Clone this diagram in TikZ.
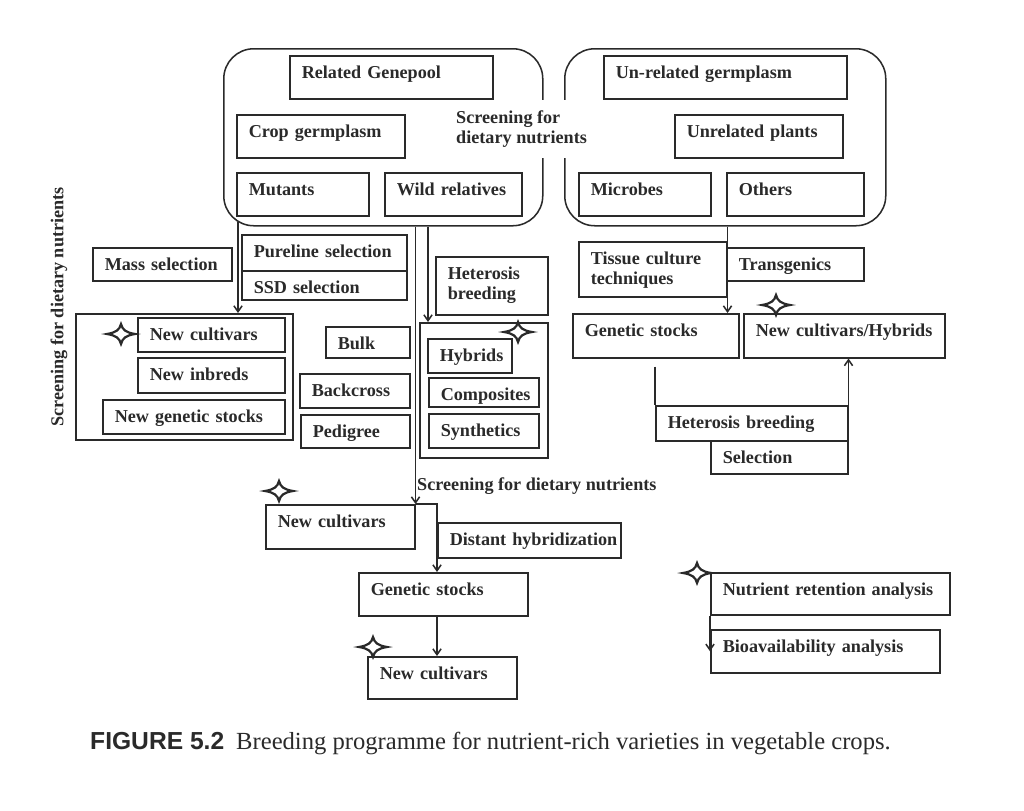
\documentclass[tikz,border=0pt]{standalone}
\usepackage{fontspec}
\setmainfont{Liberation Serif}
\newfontfamily\capsans{Liberation Sans}
\usetikzlibrary{arrows.meta,calc}
\definecolor{ink}{HTML}{2a2a2a}
\newcommand{\bxfont}{\fontsize{15.5}{17}\selectfont\bfseries}
\hyphenpenalty=10000
\exhyphenpenalty=10000

\tikzset{
  bx/.style 2 args={draw=ink, text=ink, line width=1.3pt, anchor=north west,
    align=left, inner xsep=0.36cm, inner ysep=0pt, font=\bxfont,
    /utils/exec={\pgfmathsetlengthmacro\bxw{(#1-24)*0.03cm}%
      \pgfmathsetlengthmacro\bxd{(#2-22.5)*0.03cm}},
    text width=\bxw, text height=0.675cm, text depth=\bxd},
  pool/.style 2 args={draw=ink, line width=1.3pt, rounded corners=0.9cm,
    anchor=north west, inner sep=0pt, minimum width={#1*0.03cm}, minimum height={#2*0.03cm}},
  link/.style={draw=ink, line width=1.3pt, -{Straight Barb[length=5pt,width=7pt]}},
  lbl/.style={font=\bxfont, text=ink, inner sep=0pt},
  spark/.pic={
    \draw[ink, line width=1.9pt, fill=white] (-14,0) .. controls (-5,-1.5) and (-1.5,-4) .. (0,-10)
      .. controls (1.5,-4) and (5,-1.5) .. (14,0) .. controls (5,1.5) and (1.5,4) .. (0,10)
      .. controls (-1.5,4) and (-5,1.5) .. (-14,0) -- cycle;
  }
}

\begin{document}
\begin{tikzpicture}[x=0.03cm, y=-0.03cm]
\fill[white] (0,0) rectangle (1024,811);
\useasboundingbox (0,0) rectangle (1024,811);

% gene pools
\node[pool={319}{177}] (relpool) at (223,48) {};
\node[pool={321}{177}] (unrpool) at (564,48) {};
\node[bx={203}{43}] (relgp) at (289,55) {Related Genepool};
\node[bx={168}{43}] (cropgp) at (236,114) {Crop germplasm};
\node[bx={132}{43}] (mutants) at (236,172) {Mutants};
\node[bx={137}{43}] (wildrel) at (384,172) {\mbox{Wild relatives}};
\node[bx={243}{43}] (unrgerm) at (603,55) {Un-related germplasm};
\node[bx={168}{43}] (unrpl) at (674,114) {Unrelated plants};
\node[bx={132}{43}] (microbes) at (578,172) {Microbes};
\node[bx={137}{43}] (others) at (726,172) {Others};
\node[lbl, fill=white, align=left, anchor=west, inner xsep=0.15cm, inner ysep=0.33cm] (scrtop) at (451,129) {Screening for\\dietary nutrients};

% left branch
\node[lbl, rotate=90] (scrleft) at (59,307) {Screening for dietary nutrients};
\node[bx={139}{33}] (mass) at (92,247) {\mbox{Mass selection}};
\node[bx={165}{36}] (pureline) at (241,234) {\mbox{Pureline selection}};
\node[bx={165}{29}] (ssd) at (241,270) {SSD selection};
\node[bx={217}{126}] (grpl) at (75,313) {};
\node[bx={147}{34}] (ncl) at (137,317) {New cultivars};
\node[bx={147}{35}] (inbreds) at (137,357) {New inbreds};
\node[bx={182}{34}] (newgs) at (102,399) {New genetic stocks};
\node[bx={84}{31}] (bulk) at (325,326) {Bulk};
\node[bx={110}{34}] (backcross) at (299,373) {Backcross};
\node[bx={109}{33}] (pedigree) at (300,414) {Pedigree};

% heterosis branch
\node[bx={112}{58}] (hetl) at (435,256) {Heterosis\\breeding};
\node[bx={128}{135}] (grpr) at (419,322) {};
\node[bx={84}{34}] (hybrids) at (427,338) {Hybrids};
\node[bx={110}{29}] (composites) at (428,377) {Composites};
\node[bx={110}{34}] (synthetics) at (428,413) {Synthetics};

% unrelated branch
\node[bx={148}{55}] (tissue) at (578,241) {Tissue culture\\techniques};
\node[bx={137}{33}] (transg) at (726,247) {Transgenics};
\node[bx={166}{44}] (gsr) at (572,313) {Genetic stocks};
\node[bx={201}{44}] (nch) at (743,313) {\mbox{New cultivars/Hybrids}};
\node[bx={192}{35}] (hetr) at (655,405) {Heterosis breeding};
\node[bx={137}{33}] (sel) at (710,440) {Selection};

% middle chain
\node[lbl, anchor=base west] (scrmid) at (417,490) {Screening for dietary nutrients};
\node[bx={149}{44}] (ncm) at (265,504) {New cultivars};
\node[bx={183}{35}] (dist) at (437,522) {\mbox{Distant hybridization}};
\node[bx={169}{43}] (gsm) at (358,572) {Genetic stocks};
\node[bx={149}{42}] (ncb) at (367,656) {New cultivars};

% analysis
\node[bx={239}{42}] (nra) at (710,572) {\mbox{Nutrient retention analysis}};
\node[bx={229}{43}] (bio) at (710,629) {Bioavailability analysis};

% connectors
\coordinate (dropl) at ($(relpool.south west)+(15,-5)$);
\coordinate (dropm) at ($(grpr.north west)+(9,0)$);
\coordinate (gsdrop) at ($(hetr.north west |- gsr.south)+(0,8)$);
\draw[link] (dropl) -- (dropl |- grpl.north);
\draw[link] (ncm.north east |- relpool.south) -- (ncm.north east);
\draw[link] (dropm |- relpool.south) -- (dropm);
\draw[link] (tissue.east |- unrpool.south) -- (tissue.east |- gsr.north);
\draw[ink, line width=1.3pt] (gsdrop) -- (hetr.north west);
\draw[link] (hetr.north east) -- (hetr.north east |- nch.south);
\draw[link] (ncm.north east) -| (dist.west |- gsm.north);
\draw[link] (dist.west |- gsm.south) -- (dist.west |- ncb.north);
\draw[link] (nra.south west) -- (bio.west);

% stars
\pic at (121,334) {spark};
\pic at (518,332) {spark};
\pic at (776,305) {spark};
\pic at (279,491) {spark};
\pic at (373,647) {spark};
\pic at (697,573) {spark};

% caption
\node[anchor=base west, inner sep=0pt, text=ink, font=\capsans\fontsize{21}{24}\selectfont\bfseries] (fignum) at (90,749) {FIGURE 5.2};
\node[anchor=base west, inner sep=0pt, text=ink, font=\fontsize{21}{24}\selectfont] (caption) at (236,749) {Breeding programme for nutrient-rich varieties in vegetable crops.};
\end{tikzpicture}
\end{document}
